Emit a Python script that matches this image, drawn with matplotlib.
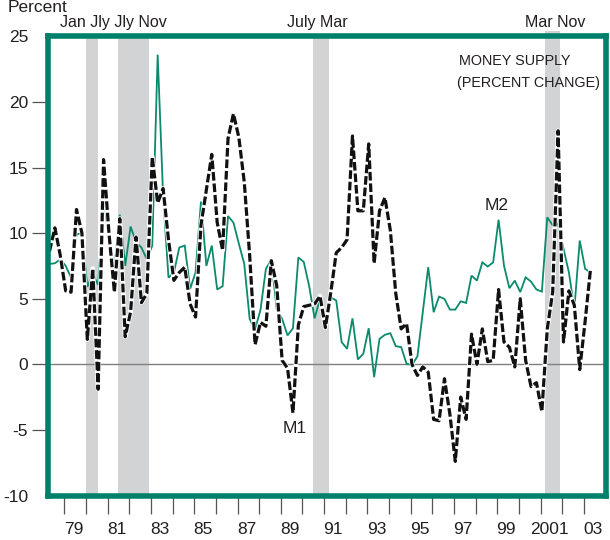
import matplotlib
matplotlib.use("Agg")
import matplotlib.pyplot as plt
import numpy as np

# quarterly growth rates, first observation 1978Q2
start_year = 1978.31
m1 = [8.6, 10.4, 8.3, 5.6, 5.5, 11.8, 10.0, 1.9, 7.3, -1.9,
      15.6, 10.0, 5.5, 11.1, 2.1, 4.0, 9.7, 4.7, 5.4, 15.8,
      12.3, 13.4, 9.5, 6.4, 7.0, 7.4, 4.6, 3.6, 10.6, 13.3,
      16.0, 10.8, 8.7, 17.2, 19.1, 17.3, 13.9, 8.3, 1.5, 3.2,
      2.9, 7.9, 6.0, 0.3, -0.3, -3.7, 3.0, 4.4, 4.5, 4.6,
      5.2, 2.8, 5.5, 8.5, 8.9, 9.5, 17.4, 11.7, 11.7, 16.8,
      7.7, 11.7, 12.7, 10.2, 5.4, 2.7, 3.1, 0.0, -0.85, -0.2,
      -0.6, -4.2, -4.3, -1.1, -3.8, -7.4, -2.5, -4.2, 2.3, 0.0,
      2.7, 0.2, 0.3, 5.7, 1.7, 1.3, -0.2, 5.0, 0.3, -1.7,
      -1.4, -3.6, 2.7, 5.5, 17.8, 1.7, 5.6, 4.5, -0.4, 3.3,
      7.3]
m2 = [7.65, 7.7, 8.0, 7.5, 6.6, 9.9, 10.0, 5.9, 6.9, 6.05,
      12.7, 9.55, 7.3, 11.4, 7.5, 10.5, 9.3, 8.9, 8.0, 9.05,
      23.6, 12.9, 6.6, 7.0, 8.9, 9.05, 5.75, 7.0, 12.4, 7.5,
      9.05, 5.7, 5.95, 11.3, 10.8, 9.2, 7.65, 3.46, 2.65, 4.15,
      7.27, 7.98, 4.2, 3.46, 2.2, 2.75, 8.15, 7.8, 5.95, 3.5,
      5.0, 3.46, 5.1, 4.86, 1.69, 1.18, 3.5, 0.37, 0.8, 2.75,
      -0.98, 1.94, 2.25, 2.37, 1.38, 1.31, 0.04, -0.04, 0.6, 4.0,
      7.4, 3.97, 5.16, 4.98, 4.17, 4.17, 4.8, 4.68, 6.76, 6.38,
      7.77, 7.45, 7.77, 11.02, 7.52, 5.8, 6.38, 5.5, 6.63, 6.3,
      5.7, 5.54, 11.2, 10.6, 10.7, 8.8, 7.0, 4.22, 9.43, 7.27,
      7.0]

# recessions (start, end) as fractional years
recessions = [(1980.0, 1980.55), (1981.5, 1982.9), (1990.5, 1991.22), (2001.2, 2001.88)]
tick_years = list(range(1979, 2004))
label_years = list(range(1979, 2004, 2))
label_text = ["79", "81", "83", "85", "87", "89", "91", "93", "95", "97", "99", "2001", "03"]
y_ticks = [-10, -5, 0, 5, 10, 15, 20, 25]

INK = "#231f20"
GREEN_FRAME = "#00806a"
GREEN_LINE = "#0b8a6c"
SHADE = "#d1d3d4"

plt.rcParams["font.family"] = ["Liberation Sans", "DejaVu Sans"]

fig = plt.figure(figsize=(6.1, 5.4), dpi=100)
W, H = 610, 540
ax = fig.add_axes([47.5 / W, 1 - 495.5 / H, (605.5 - 47.5) / W, (495.5 - 36.3) / H])

t = start_year + 0.25 * np.arange(len(m1))

for i, (a, b) in enumerate(recessions):
    top = 1.012 if i == 3 else 1.0
    ax.axvspan(a, b, ymin=0, ymax=top, color=SHADE, lw=0, zorder=0, clip_on=(i != 3))

ax.axhline(0, color="#7f7f7f", lw=1.0, zorder=1)
ax.plot(t, m2, color=GREEN_LINE, lw=1.3, zorder=2, solid_joinstyle="miter")
ax.plot(t, m1, color="white", lw=3.4, zorder=3)
ax.plot(t, m1, color="#111111", lw=2.3, zorder=4, dashes=(2.7, 0.9))

ax.set_xlim(1978.22, 2004.0)
ax.set_ylim(-10, 25)

for s in ax.spines.values():
    s.set_color(GREEN_FRAME)
    s.set_linewidth(4.0)
    s.set_zorder(5)

ax.set_yticks(y_ticks)
ax.set_yticklabels([str(v) for v in y_ticks], fontsize=12.5, color=INK)
ax.tick_params(axis="y", direction="out", length=11.5, width=0.9, color="#555555", pad=2.5)
yt = ax.yaxis.get_major_ticks()
yt[0].tick1line.set_visible(False)
yt[-1].tick1line.set_visible(False)

ax.set_xticks(tick_years)
ax.set_xticklabels([])
ax.tick_params(axis="x", which="major", direction="out", length=12.6, width=0.9, color="#555555")
ax.set_xticks([y + 0.42 for y in label_years], minor=True)
ax.set_xticklabels(label_text, minor=True, fontsize=12.5, color=INK)
ax.tick_params(axis="x", which="minor", length=0, pad=19)

# annotations
def ftext(x, y, s, **kw):
    fig.text(x / W, 1 - y / H, s, va="baseline", ha="left", color=INK, **kw)

ftext(8, 12, "Percent", fontsize=12.5)
ftext(60, 27, "Jan Jly Jly Nov", fontsize=11.5)
ftext(287, 27, "July Mar", fontsize=11.5)
ftext(525, 27, "Mar Nov", fontsize=11.5)

ax.text(1997.23, 22.8, "MONEY SUPPLY", fontsize=10.4, color=INK, va="baseline")
ax.text(1997.12, 21.1, "(PERCENT CHANGE)", fontsize=10.4, color=INK, va="baseline")
ax.text(1989.09, -5.24, "M1", fontsize=12.5, color=INK, va="baseline")
ax.text(1998.43, 11.75, "M2", fontsize=12.5, color=INK, va="baseline")

fig.savefig("out.png", dpi=100)
